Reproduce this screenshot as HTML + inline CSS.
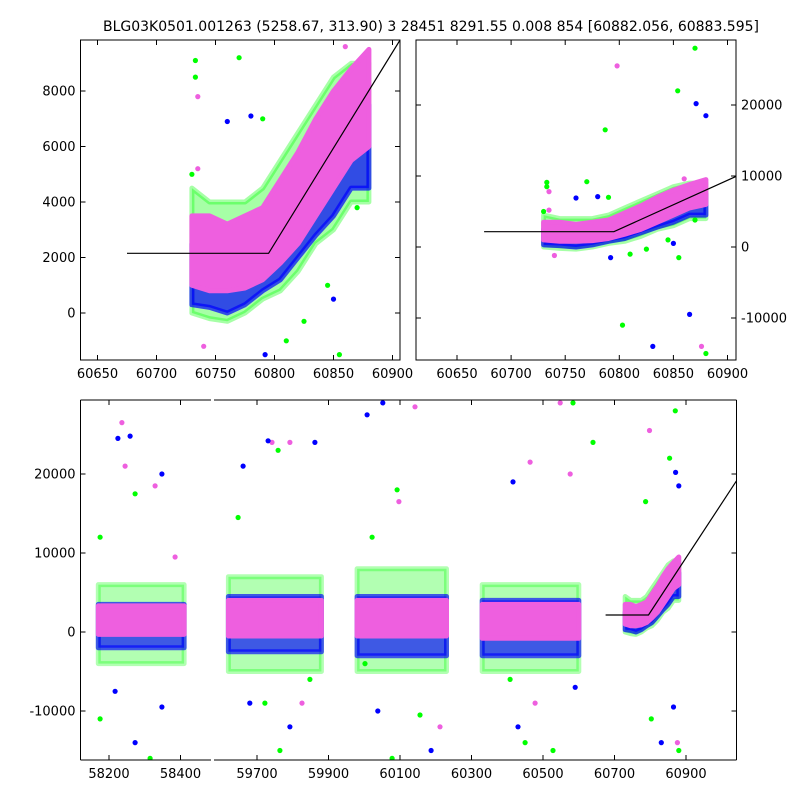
<!DOCTYPE html>
<html><head><meta charset="utf-8"><style>
html,body{margin:0;padding:0;background:#fff;}
svg{display:block;font-family:"DejaVu Sans","Liberation Sans",sans-serif;}
</style></head><body>
<svg id="chart" width="800" height="800" viewBox="0 0 800 800">
<defs>
<clipPath id="cTL"><rect x="80.5" y="40" width="319.5" height="320"/></clipPath>
<clipPath id="cTR"><rect x="416" y="40" width="320" height="320"/></clipPath>
<clipPath id="cBL"><rect x="80.5" y="400" width="130.5" height="360"/></clipPath>
<clipPath id="cBR"><rect x="214" y="400" width="522.5" height="360"/></clipPath>
</defs>
<text x="431" y="31" font-size="14" text-anchor="middle">BLG03K0501.001263 (5258.67, 313.90)   3 28451 8291.55 0.008 854 [60882.056, 60883.595]</text>
<g id="layer"></g>
</svg>
<script>
// ---- data ----
const zTimes = [60730,60745,60760,60775,60790,60805,60820,60835,60850,60865,60880];
const zPinkLo = [1000,800,800,900,1200,1800,2500,3500,4500,5500,6000];
const zPinkHi = [3500,3500,3200,3500,3800,4800,5800,7000,8000,8800,9500];
const zBlueLo = [300,200,0,300,800,1200,2000,2800,3500,4500,4500];
const zBlueHi = [2500,2500,2500,2500,2800,3500,4500,5500,6500,7500,7500];
const zGreenLo = [0,-200,-300,0,500,800,1500,2500,3000,4000,4000];
const zGreenHi = [4500,4000,4000,4000,4500,5500,6500,7500,8500,9000,9000];
const sStart = [58170,59620,59980,60330];
const sEnd = [58410,59880,60230,60600];
const sPinkLo = [-300,-500,-500,-800];
const sPinkHi = [3300,4000,4000,3500];
const sBlueLo = [-2000,-2500,-3000,-3000];
const sBlueHi = [3500,4500,4500,4000];
const sGreenLo = [-4000,-5000,-5000,-5000];
const sGreenHi = [6000,7000,8000,6000];
const oT = [58175,58236,58225,58259,58245,58273,58348,58329,58217,58175,58273,58315,58348,58385,
  59647,59661,59742,59731,59759,59792,59862,59764,59792,59722,59680,59826,59848,
  60008,60052,60142,60092,60097,60022,60038,60078,60187,60156,60212,60002,
  60416,60464,60548,60584,60576,60640,60450,60528,60430,60408,60478,60590,
  60798,60870,60854,60871,60787,60880,60803,60865,60880,60876,60831];
const oV = [12000,26500,24500,24800,21000,17500,20000,18500,-7500,-11000,-14000,-16000,-9500,9500,
  14500,21000,24000,24200,23000,24000,24000,-15000,-12000,-9000,-9000,-9000,-6000,
  27500,29000,28500,18000,16500,12000,-10000,-16000,-15000,-10500,-12000,-4000,
  19000,21500,29000,29000,20000,24000,-14000,-15000,-12000,-6000,-9000,-7000,
  25500,28000,22000,20200,16500,18500,-11000,-9500,-15000,-14000,-14000];
const oC = ['g','p','b','b','p','g','b','p','b','g','b','g','b','p',
  'g','b','p','b','g','p','b','g','b','g','b','p','g',
  'b','b','p','g','p','g','b','g','b','g','p','g',
  'b','p','p','g','p','g','g','g','b','g','p','b',
  'p','g','g','b','g','b','g','b','g','p','b'];
const tlT = [60733,60733,60735,60770,60790,60760,60855,60792,60810,60850,60740,60730,60735,60870,60845,60780,60825,60860];
const tlV = [9100,8500,7800,9200,7000,6900,-1500,-1500,-1000,500,-1200,5000,5200,3800,1000,7100,-300,9600];
const tlC = ['g','g','p','g','g','b','g','b','g','b','p','g','p','g','g','b','g','p'];
const lineBase = 2150, lineBreak = 60795, lineSlope = 69, lineStart = 60675;
const tlXTicks = [60650,60700,60750,60800,60850,60900];
const tlYTicks = [0,2000,4000,6000,8000];
const trYTicks = [-10000,0,10000,20000];
const bYTicks = [-10000,0,10000,20000];
const bXTicksL = [58200,58400];
const bXTicksR = [59700,59900,60100,60300,60500,60700,60900];

const COL = {g:'#00ff00', b:'#0000ff', p:'#ee5fdf'};
const NS = 'http://www.w3.org/2000/svg';
const layer = document.getElementById('layer');
function el(tag, attrs, parent){const e=document.createElementNS(NS,tag);for(const k in attrs)e.setAttribute(k,attrs[k]);(parent||layer).appendChild(e);return e;}

const TL = {sx:t=>97.5+(t-60650)*1.18, sy:v=>313-v*0.02775, clip:'cTL'};
const TR = {sx:t=>457+(t-60650)*1.082, sy:v=>247-v*0.0071, clip:'cTR'};
const bsx = t=> t<59000 ? 109+(t-58200)*0.3575 : 257+(t-59700)*0.3575;
const BR = {sx:bsx, sy:v=>632-v*0.0079, clip:'cBR'};
const BL = {sx:bsx, sy:v=>632-v*0.0079, clip:'cBL'};

function band(ax, ts, lo, hi, color, op, name){
  const g = el('g',{'clip-path':'url(#'+ax.clip+')'});
  let pts=[];
  for(let i=0;i<ts.length;i++) pts.push(ax.sx(ts[i]).toFixed(1)+','+ax.sy(hi[i]).toFixed(1));
  for(let i=ts.length-1;i>=0;i--) pts.push(ax.sx(ts[i]).toFixed(1)+','+ax.sy(lo[i]).toFixed(1));
  const p = el('polygon',{points:pts.join(' '),fill:color,'fill-opacity':op,stroke:color,'stroke-width':5,'stroke-linejoin':'round','stroke-opacity':op},g);
  
  
}
function dots(ax, T, V, C, name){
  const g = el('g',{'clip-path':'url(#'+ax.clip+')'});
  for(let i=0;i<T.length;i++){
    const c = el('circle',{cx:ax.sx(T[i]).toFixed(1),cy:ax.sy(V[i]).toFixed(1),r:2.6,fill:COL[C[i]]},g);
    
    
  }
}
function model(ax, tEnd){
  const g = el('g',{'clip-path':'url(#'+ax.clip+')'});
  const m = t=> t<lineBreak ? lineBase : lineBase+(t-lineBreak)*lineSlope;
  const pts=[[lineStart,m(lineStart)],[lineBreak,lineBase],[tEnd,m(tEnd)]].map(p=>ax.sx(p[0]).toFixed(1)+','+ax.sy(p[1]).toFixed(1)).join(' ');
  const l = el('polyline',{points:pts,fill:'none',stroke:'#000','stroke-width':1.2},g);
  
  
}
function zoomSeason(ax){
  band(ax, zTimes, zGreenLo, zGreenHi, COL.g, 0.35, 'green-cloud');
  band(ax, zTimes, zBlueLo, zBlueHi, COL.b, 0.7, 'blue-cloud');
  band(ax, zTimes, zPinkLo, zPinkHi, COL.p, 1, 'pink-cloud');
}
zoomSeason(TL); dots(TL, tlT, tlV, tlC, 'outlier-point'); model(TL, 61000);
zoomSeason(TR); dots(TR, oT.slice(51), oV.slice(51), oC.slice(51), 'outlier-point'); dots(TR, tlT, tlV, tlC, 'outlier-point'); model(TR, 61000);
[BL,BR].forEach(ax=>{
  for(let i=0;i<sStart.length;i++){
    band(ax,[sStart[i],sEnd[i]],[sGreenLo[i],sGreenLo[i]],[sGreenHi[i],sGreenHi[i]],COL.g,0.3,'green-cloud');
    band(ax,[sStart[i],sEnd[i]],[sBlueLo[i],sBlueLo[i]],[sBlueHi[i],sBlueHi[i]],COL.b,0.65,'blue-cloud');
    band(ax,[sStart[i],sEnd[i]],[sPinkLo[i],sPinkLo[i]],[sPinkHi[i],sPinkHi[i]],COL.p,1,'pink-cloud');
  }
  zoomSeason(ax);
  dots(ax, oT, oV, oC, 'outlier-point');
});
model(BR, 61100);

function frame(x0,y0,w,h,name){
  const r=el('rect',{x:x0,y:y0,width:w,height:h,fill:'none',stroke:'#000','stroke-width':1});
  
  
}
function xt(ax, ticks, y0, y1, name){
  ticks.forEach(t=>{const x=ax.sx(t);
    el('line',{x1:x,x2:x,y1:y1,y2:y1-5,stroke:'#000'});
    el('line',{x1:x,x2:x,y1:y0,y2:y0+5,stroke:'#000'});
    const tx=el('text',{x:x,y:y1+18,'font-size':13,'text-anchor':'middle'});tx.textContent=t;
    
    
  });
}
function yt(ax, ticks, x0, x1, right, name){
  ticks.forEach(v=>{const y=ax.sy(v);
    el('line',{x1:x0,x2:x0+5,y1:y,y2:y,stroke:'#000'});
    el('line',{x1:x1,x2:x1-5,y1:y,y2:y,stroke:'#000'});
    const tx=el('text',{x:right?x1+5:x0-5,y:y+4.5,'font-size':13,'text-anchor':right?'start':'end'});tx.textContent=v;
    
    
  });
}
frame(80.5,40,319.5,320,'top-left-axes');
xt(TL, tlXTicks, 40, 360, 'x-tick-label'); yt(TL, tlYTicks, 80.5, 400, false, 'y-tick-label');
frame(416,40,320,320,'top-right-axes');
xt(TR, tlXTicks, 40, 360, 'x-tick-label'); yt(TR, trYTicks, 416, 736, true, 'y-tick-label');
el('line',{x1:80.5,x2:211,y1:400,y2:400,stroke:'#000'});
el('line',{x1:80.5,x2:211,y1:760,y2:760,stroke:'#000'});
el('line',{x1:214,x2:736.5,y1:400,y2:400,stroke:'#000'});
el('line',{x1:214,x2:736.5,y1:760,y2:760,stroke:'#000'});
el('line',{x1:80.5,x2:80.5,y1:400,y2:760,stroke:'#000'});
el('line',{x1:736.5,x2:736.5,y1:400,y2:760,stroke:'#000'});
xt(BL, bXTicksL, 400, 760, 'x-tick-label'); xt(BR, bXTicksR, 400, 760, 'x-tick-label');
yt(BR, bYTicks, 80.5, 736.5, false, 'y-tick-label');
</script>
</body></html>
